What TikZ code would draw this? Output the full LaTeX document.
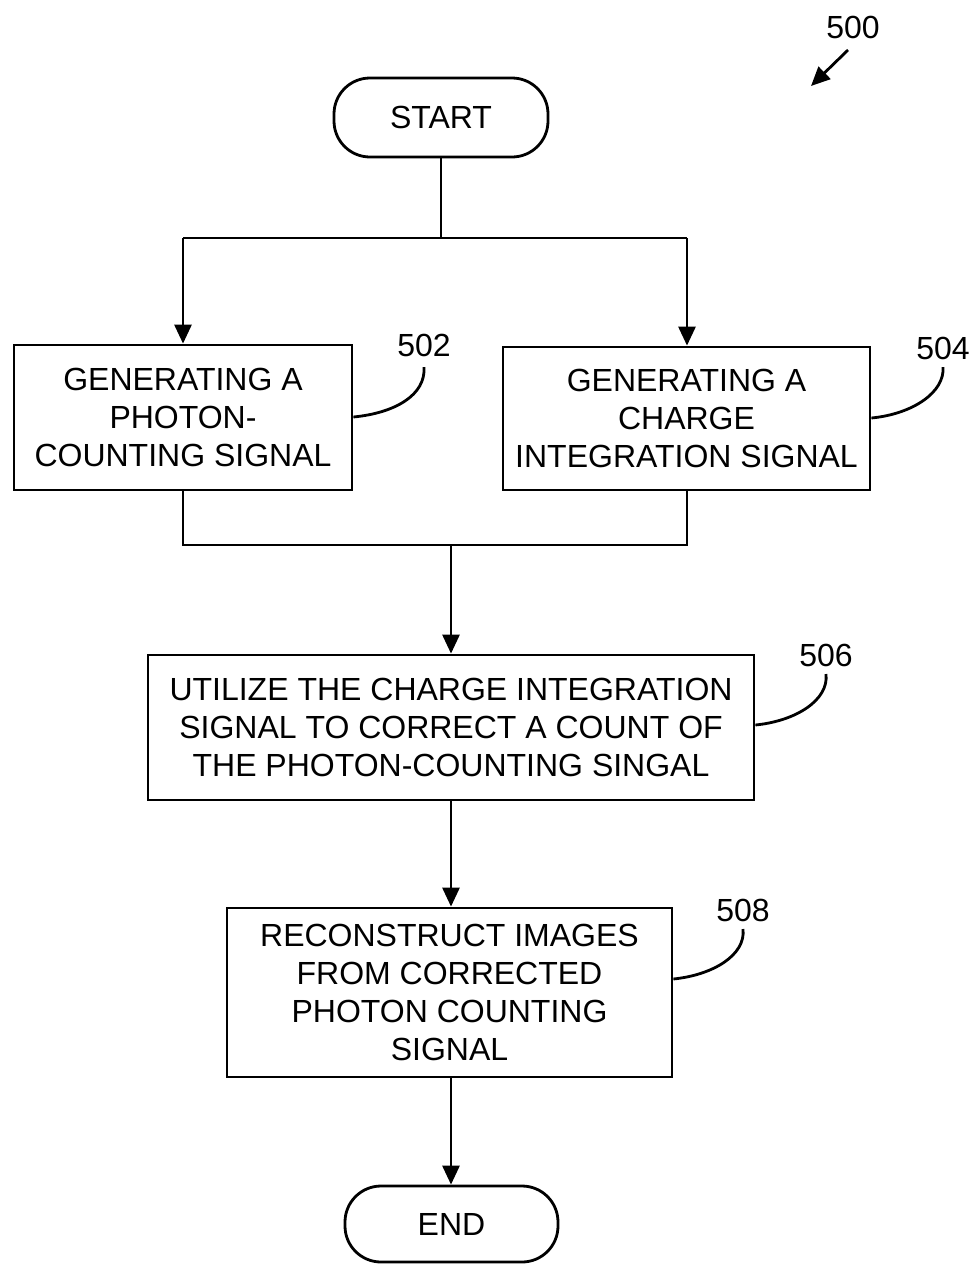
\documentclass[tikz,border=0pt]{standalone}
\usepackage{fontspec}
\setmainfont{Liberation Sans}
\usetikzlibrary{arrows.meta}
\begin{document}
\begin{tikzpicture}[x=1pt,y=-1pt,
  line width=2.8pt,
  txt/.style={font=\fontsize{32}{38}\selectfont, align=center},
  stepbox/.style={draw, txt, inner sep=0pt},
  term/.style={draw, txt, rounded corners=36pt, inner sep=0pt},
  arr/.style={-{Triangle[length=19pt,width=17pt]}},
  lead/.style={line width=2.8pt},
  lbl/.style={font=\fontsize{32}{34}\selectfont, inner sep=0pt}]
\useasboundingbox (0,0) rectangle (974,1264);

\node[term, minimum width=214pt, minimum height=79pt] (start) at (441,117.5) {START};
\node[stepbox, minimum width=338pt, minimum height=145pt] (b502) at (183,417.5) {GENERATING A\\PHOTON-\\COUNTING SIGNAL};
\node[stepbox, minimum width=367pt, minimum height=143pt] (b504) at (686.5,418.5) {GENERATING A\\CHARGE\\INTEGRATION SIGNAL};
\node[stepbox, minimum width=606pt, minimum height=145pt] (b506) at (451,727.5) {UTILIZE THE CHARGE INTEGRATION\\SIGNAL TO CORRECT A COUNT OF\\THE PHOTON-COUNTING SINGAL};
\node[stepbox, minimum width=445pt, minimum height=169pt] (b508) at (449.5,992.5) {RECONSTRUCT IMAGES\\FROM CORRECTED\\PHOTON COUNTING\\SIGNAL};
\node[term, minimum width=213pt, minimum height=76pt] (end) at (451.5,1224) {END};

% labels
\node[lbl] (l500) at (853,27) {500};
\node[lbl] (l502) at (424,345) {502};
\node[lbl] (l504) at (943,348) {504};
\node[lbl] (l506) at (826,655) {506};
\node[lbl] (l508) at (743,910) {508};

% split
\coordinate (s1) at (441,238);
\coordinate (sl) at (183,238);
\coordinate (sr) at (687,238);
\draw (start.south) -- (s1);
\draw (sl) -- (sr);
\draw[arr] (sl) -- (b502.north -| sl);
\draw[arr] (sr) -- (b504.north -| sr);

% join
\coordinate (jl) at (183,545);
\coordinate (jr) at (687,545);
\coordinate (jm) at (451,545);
\draw (b502.south -| jl) -- (jl) -- (jr) -- (b504.south -| jr);
\draw[arr] (jm) -- (b506.north -| jm);
\draw[arr] (b506.south -| jm) -- (b508.north -| jm);
\draw[arr] (b508.south -| jm) -- (end.north -| jm);

% 500 arrow
\coordinate (a500s) at (848,50);
\coordinate (a500e) at (811,86);
\draw[arr] (a500s) -- (a500e);

% leaders
\draw[lead] (b502.east |- 0,417) .. controls (395,413) and (426,395) .. (l502.south |- 0,367);
\draw[lead] (b504.east |- 0,418) .. controls (913,414) and (945,392) .. (l504.south |- 0,367);
\draw[lead] (b506.east |- 0,725) .. controls (796,721) and (829,700) .. (l506.south |- 0,674);
\draw[lead] (b508.east |- 0,979) .. controls (713,975) and (746,955) .. (l508.south |- 0,929);
\end{tikzpicture}
\end{document}
